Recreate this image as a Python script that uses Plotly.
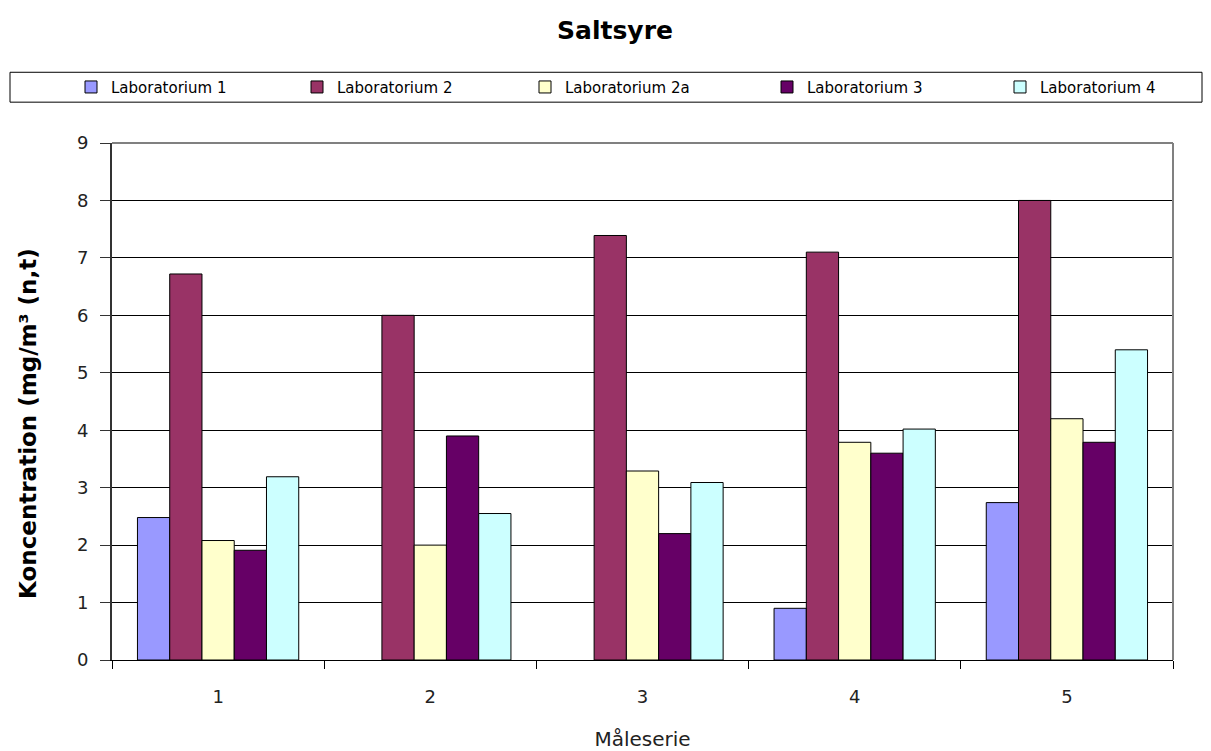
import plotly.graph_objects as go

categories = ["1", "2", "3", "4", "5"]
series_names = ["Laboratorium 1", "Laboratorium 2", "Laboratorium 2a", "Laboratorium 3", "Laboratorium 4"]
lab1 = [2.48, None, None, 0.9, 2.74]
lab2 = [6.72, 6.0, 7.39, 7.1, 8.0]
lab2a = [2.08, 2.0, 3.29, 3.79, 4.2]
lab3 = [1.91, 3.9, 2.2, 3.6, 3.79]
lab4 = [3.19, 2.55, 3.09, 4.02, 5.4]
colors = ["#9999FF", "#993366", "#FFFFCC", "#660066", "#CCFFFF"]
y_ticks = [0, 1, 2, 3, 4, 5, 6, 7, 8, 9]

# page body has an 8px offset; target plot area in screen px: x 112..1173, y 143..662
W, H = 1211, 751
OFF = 8
PX0, PX1, PY0, PY1 = 112, 1173, 143, 662
L, T = PX0 - OFF, PY0 - OFF
R = W + OFF - PX1
B = H + OFF - PY1
pw, ph = PX1 - PX0, PY1 - PY0

def px_x(p):
    return (p - PX0) / pw

def px_y(p):
    return (PY1 - p) / ph

font_main = "DejaVu Sans, Verdana, sans-serif"

# screen x of each legend symbol in the reference
legend_symbol_x = [92, 318, 546, 788, 1021]
legend_ids = ["legend", "legend2", "legend3", "legend4", "legend5"]

fig = go.Figure()
for name, vals, col, lid in zip(series_names, [lab1, lab2, lab2a, lab3, lab4], colors, legend_ids):
    fig.add_trace(go.Bar(
        name=name, x=categories, y=vals, legend=lid,
        marker=dict(color=col, line=dict(color="#000000", width=1)),
    ))

legend_layout = {}
for lid, sx in zip(legend_ids, legend_symbol_x):
    legend_layout[lid] = dict(
        orientation="h", x=px_x(sx - 21), xanchor="left", y=px_y(87), yanchor="middle",
        font=dict(size=15, family=font_main), bgcolor="rgba(0,0,0,0)", borderwidth=0,
    )

fig.update_layout(
    width=W, height=H,
    margin=dict(l=L, r=R, t=T, b=B),
    paper_bgcolor="white", plot_bgcolor="white",
    barmode="group", bargap=0.24, bargroupgap=0,
    font=dict(family=font_main, color="#000000"),
    title=dict(text="<b>Saltsyre</b>", x=px_x(615), xref="paper", xanchor="center",
               y=1 - (30 - OFF) / H, yanchor="middle", font=dict(size=25, family=font_main)),
    showlegend=True,
    xaxis=dict(
        type="category", showline=True, linecolor="#000000", linewidth=1,
        ticks="outside", tickson="boundaries", ticklen=8, tickcolor="#000000",
        tickfont=dict(size=18, family=font_main, color="#222222"),
        ticklabelstandoff=20,
        showgrid=False,
        title=dict(text="Måleserie", font=dict(size=20, family=font_main, color="#222222"), standoff=26),
    ),
    yaxis=dict(
        range=[0, 9], tickvals=y_ticks, showline=True, linecolor="#333333", linewidth=2,
        ticks="outside", ticklen=10, tickcolor="#333333",
        tickfont=dict(size=18, family=font_main, color="#222222"),
        ticklabelstandoff=8,
        showgrid=True, gridcolor="#000000", gridwidth=1, zeroline=False,
    ),
    annotations=[
        dict(text="<b>Koncentration (mg/m³ (n,t)</b>", textangle=-90,
             xref="paper", yref="paper", x=px_x(28), y=px_y(425),
             xanchor="center", yanchor="middle", showarrow=False,
             font=dict(size=23, family=font_main, color="#000000")),
    ],
    shapes=[
        dict(type="rect", xref="paper", yref="paper", x0=px_x(10), x1=px_x(1202),
             y0=px_y(102), y1=px_y(72), line=dict(color="#000000", width=1),
             fillcolor="rgba(0,0,0,0)", layer="below"),
        dict(type="line", xref="paper", yref="paper", x0=1, x1=1, y0=0, y1=1,
             line=dict(color="#808080", width=2)),
        dict(type="line", xref="paper", yref="paper", x0=0, x1=1, y0=1, y1=1,
             line=dict(color="#808080", width=2)),
    ],
    **legend_layout,
)

fig.write_html("out.html")
